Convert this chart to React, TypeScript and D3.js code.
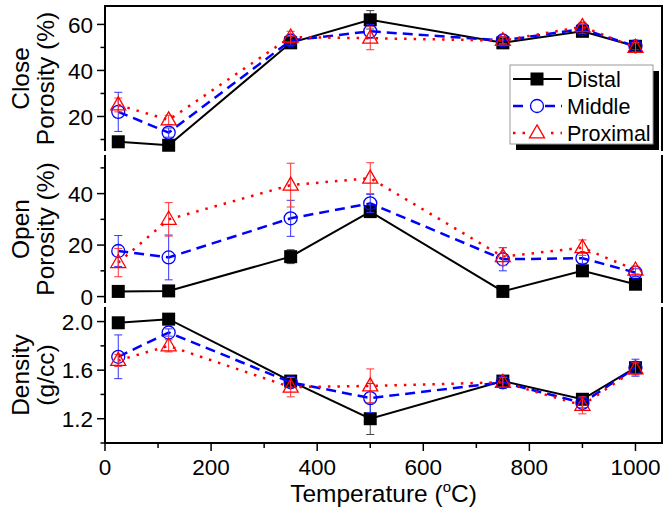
import React from "react";
import * as d3 from "d3";

const temps = [25, 120, 350, 500, 750, 900, 1000];
const seriesNames = ["Distal", "Middle", "Proximal"];

const closeDistal = [9, 7.5, 52, 62, 52, 57, 50.5];
const closeMiddle = [22, 13, 53, 57, 53, 58, 50.5];
const closeProximal = [25, 18.5, 54.5, 54, 53, 59, 50];
const closeDistalErr = [1, 1, 1.5, 4, 1, 1.5, 1];
const closeMiddleErr = [8.5, 2, 2, 3, 1.5, 2, 1.5];
const closeProximalErr = [3, 2, 2.5, 5, 1.5, 2, 2];

const openDistal = [2, 2.2, 15.5, 33, 2, 10, 4.8];
const openMiddle = [17.7, 15.2, 30.4, 36.2, 14.5, 14.9, 9.3];
const openProximal = [13.2, 30, 43.3, 46, 15.5, 19, 10.3];
const openDistalErr = [0.5, 0.5, 2.7, 1, 0.5, 1, 1];
const openMiddleErr = [6, 8.7, 7, 3.5, 4.5, 2, 1.5];
const openProximalErr = [5.5, 6.5, 8.5, 6, 3.5, 3, 1.5];

const densDistal = [1.99, 2.02, 1.51, 1.2, 1.51, 1.36, 1.62];
const densMiddle = [1.71, 1.91, 1.5, 1.37, 1.5, 1.33, 1.62];
const densProximal = [1.68, 1.8, 1.46, 1.47, 1.5, 1.31, 1.61];
const densDistalErr = [0.02, 0.02, 0.04, 0.13, 0.03, 0.03, 0.04];
const densMiddleErr = [0.18, 0.03, 0.04, 0.12, 0.05, 0.04, 0.07];
const densProximalErr = [0.05, 0.05, 0.08, 0.14, 0.04, 0.07, 0.05];

const xTicks = [0, 200, 400, 600, 800, 1000];
const xMinor = [100, 300, 500, 700, 900];

const panels = [
  {
    title: ["Close", "Porosity (%)"],
    domain: [5, 68],
    range: [6, 151],
    major: [20, 40, 60],
    minor: [10, 30, 50],
    fmt: (v: number) => String(v),
    series: [closeDistal, closeMiddle, closeProximal],
    errs: [closeDistalErr, closeMiddleErr, closeProximalErr],
  },
  {
    title: ["Open", "Porosity (%)"],
    domain: [-2.5, 55],
    range: [155, 303],
    major: [0, 20, 40],
    minor: [10, 30, 50],
    fmt: (v: number) => String(v),
    series: [openDistal, openMiddle, openProximal],
    errs: [openDistalErr, openMiddleErr, openProximalErr],
  },
  {
    title: ["Density", "(g/cc)"],
    domain: [1.0, 2.12],
    range: [307, 443],
    major: [1.2, 1.6, 2.0],
    minor: [1.0, 1.4, 1.8],
    fmt: (v: number) => v.toFixed(1),
    series: [densDistal, densMiddle, densProximal],
    errs: [densDistalErr, densMiddleErr, densProximalErr],
  },
];

const colors = ["#000000", "#0000ff", "#ff0000"];
const errColors = ["#444444", "#3333ff", "#ff3333"];
const dashes = [undefined, "10,6", "2.5,7"];
const widths = [2, 2.5, 2.5];
const FONT = "'Liberation Sans', Arial, sans-serif";
const TICK_FS = 22.5;
const TITLE_FS = 24.5;

function Marker({ kind, x, y }: { kind: number; x: number; y: number }) {
  if (kind === 0) return <rect x={x - 6.5} y={y - 6.5} width={13} height={13} fill="#000" />;
  if (kind === 1) return <circle cx={x} cy={y} r={6.5} fill="none" stroke="#0000ff" strokeWidth={1.3} />;
  const h = 13;
  const w = 15;
  return (
    <path
      d={`M${x},${y - h * 0.62} L${x + w / 2},${y + h * 0.38} L${x - w / 2},${y + h * 0.38} Z`}
      fill="none"
      stroke="#ff0000"
      strokeWidth={1.3}
    />
  );
}

export default function App() {
  const left = 105;
  const right = 662;
  const x = d3.scaleLinear().domain([0, 1050]).range([left, right]);

  return (
    <svg
      width={670}
      height={512}
      style={{ position: "fixed", top: 0, left: 0, background: "#fff" }}
      fontFamily={FONT}
    >
      <rect width={670} height={512} fill="#fff" />
      {panels.map((p, pi) => {
        const y = d3.scaleLinear().domain(p.domain).range([p.range[1], p.range[0]]);
        const cy = (p.range[0] + p.range[1]) / 2;
        return (
          <g key={pi}>
            <line x1={left} x2={left} y1={p.range[0]} y2={p.range[1]} stroke="#000" strokeWidth={2} />
            <line x1={right} x2={right} y1={p.range[0]} y2={p.range[1]} stroke="#000" strokeWidth={2} />
            {pi === 0 && <line x1={left - 1} x2={right + 1} y1={p.range[0]} y2={p.range[0]} stroke="#000" strokeWidth={2} />}
            {pi === 2 && <line x1={left - 1} x2={right + 1} y1={p.range[1]} y2={p.range[1]} stroke="#000" strokeWidth={2} />}
            {p.major.map((t) => (
              <g key={"M" + t}>
                <line x1={left - 8} x2={left} y1={y(t)} y2={y(t)} stroke="#000" strokeWidth={1.5} />
                <text x={93} y={y(t)} dy="0.36em" textAnchor="end" fontSize={TICK_FS}>
                  {p.fmt(t)}
                </text>
              </g>
            ))}
            {p.minor
              .filter((t) => y(t) >= p.range[0] - 0.5 && y(t) <= p.range[1] + 0.5)
              .map((t) => (
                <line key={"m" + t} x1={left - 4.5} x2={left} y1={y(t)} y2={y(t)} stroke="#000" strokeWidth={1.5} />
              ))}
            <text transform={`translate(29,${cy}) rotate(-90)`} textAnchor="middle" fontSize={TITLE_FS}>
              {p.title[0]}
            </text>
            <text transform={`translate(54,${cy}) rotate(-90)`} textAnchor="middle" fontSize={TITLE_FS}>
              {p.title[1]}
            </text>
            {p.series.map((vals, si) => {
              const line = d3
                .line<number>()
                .x((_, i) => x(temps[i]))
                .y((v) => y(v));
              return (
                <g key={si}>
                  <path
                    d={line(vals) || ""}
                    fill="none"
                    stroke={colors[si]}
                    strokeWidth={widths[si]}
                    strokeDasharray={dashes[si]}
                  />
                  {vals.map((v, i) => {
                    const e = p.errs[si][i];
                    const px = x(temps[i]);
                    return (
                      <g key={i} stroke={errColors[si]} strokeWidth={1}>
                        <line x1={px} x2={px} y1={y(v + e)} y2={y(v - e)} />
                        <line x1={px - 4} x2={px + 4} y1={y(v + e)} y2={y(v + e)} />
                        <line x1={px - 4} x2={px + 4} y1={y(v - e)} y2={y(v - e)} />
                      </g>
                    );
                  })}
                  {vals.map((v, i) => (
                    <Marker key={"k" + i} kind={si} x={x(temps[i])} y={y(v)} />
                  ))}
                </g>
              );
            })}
          </g>
        );
      })}
      {xTicks.map((t) => (
        <g key={t}>
          <line x1={x(t)} x2={x(t)} y1={443} y2={451} stroke="#000" strokeWidth={1.5} />
          <text x={x(t)} y={475} textAnchor="middle" fontSize={TICK_FS}>
            {t}
          </text>
        </g>
      ))}
      {xMinor.map((t) => (
        <line key={t} x1={x(t)} x2={x(t)} y1={443} y2={448} stroke="#000" strokeWidth={1.5} />
      ))}
      <text x={(left + right) / 2} y={502} textAnchor="middle" fontSize={TITLE_FS}>
        Temperature (<tspan dy={-10} fontSize={15}>o</tspan>
        <tspan dy={10}>C)</tspan>
      </text>
      <rect x={516} y={71} width={143} height={79} fill="#000" />
      <rect x={510} y={65} width={143} height={79} fill="#fff" stroke="#999" strokeWidth={1} />
      {seriesNames.map((name, si) => {
        const ly = 79 + si * 27;
        return (
          <g key={name}>
            <line
              x1={513}
              x2={562}
              y1={ly}
              y2={ly}
              stroke={colors[si]}
              strokeWidth={widths[si]}
              strokeDasharray={dashes[si]}
            />
            <rect x={529} y={ly - 8} width={16} height={16} fill="#fff" opacity={si === 0 ? 0 : 1} />
            <Marker kind={si} x={537} y={ly} />
            <text x={567} y={ly} dy="0.36em" fontSize={21.5}>
              {name}
            </text>
          </g>
        );
      })}
    </svg>
  );
}
